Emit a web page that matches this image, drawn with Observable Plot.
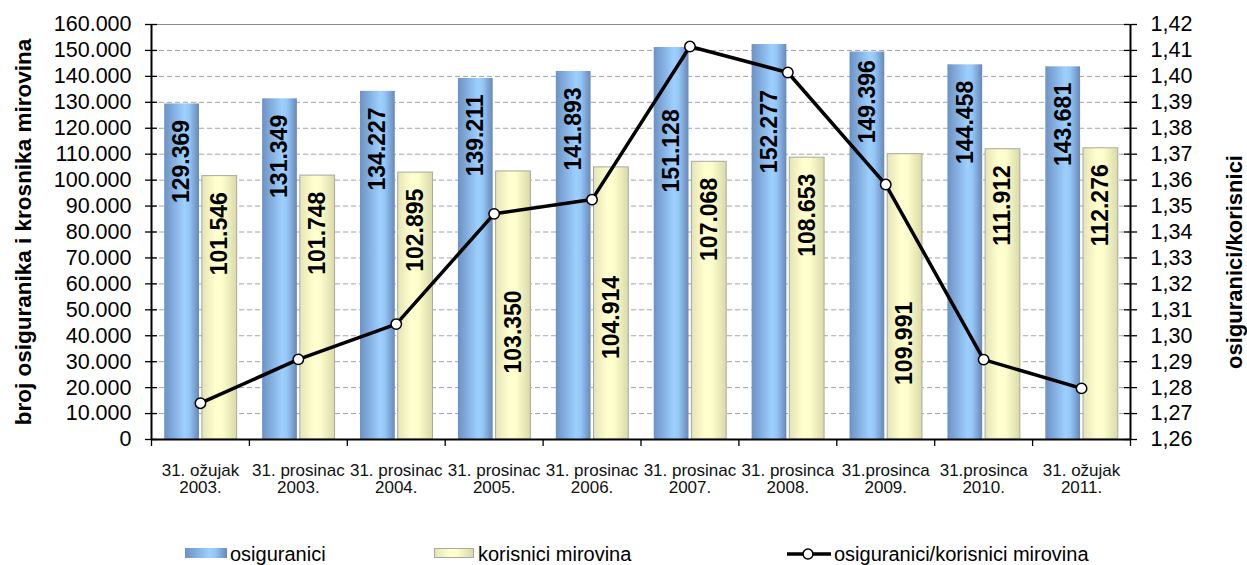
<!DOCTYPE html>
<html>
<head>
<meta charset="utf-8">
<script src="https://cdn.jsdelivr.net/npm/d3@7"></script>
<script src="https://cdn.jsdelivr.net/npm/@observablehq/plot@0.6"></script>
<style>
  html, body { margin: 0; padding: 0; background: #fff; }
  body { font-family: "Liberation Sans", Arial, sans-serif; }
  #wrap { position: relative; width: 1247px; height: 565px; overflow: hidden; }
  #chart svg { display: block; }
  .lg { position: absolute; font-size: 20px; line-height: 20px; color: #000; white-space: nowrap; }
  .sw { position: absolute; box-sizing: border-box; }
</style>
</head>
<body>
<div id="wrap">
  <div id="chart"></div>
  <div id="legend"></div>
</div>
<script>
// ---------------- data ----------------
const categories = [
  "31. ožujak\n2003.", "31. prosinac\n2003.", "31. prosinac\n2004.", "31. prosinac\n2005.",
  "31. prosinac\n2006.", "31. prosinac\n2007.", "31. prosinca\n2008.", "31.prosinca\n2009.",
  "31.prosinca\n2010.", "31. ožujak\n2011."
];
const osiguranici = [129369, 131349, 134227, 139211, 141893, 151128, 152277, 149396, 144458, 143681];
const korisnici   = [101546, 101748, 102895, 103350, 104914, 107068, 108653, 109991, 111912, 112276];
const omjer       = [1.274, 1.2909, 1.3045, 1.347, 1.3525, 1.4115, 1.4015, 1.3583, 1.2908, 1.2797];
const leftTicks   = [0, 10000, 20000, 30000, 40000, 50000, 60000, 70000, 80000, 90000, 100000,
                     110000, 120000, 130000, 140000, 150000, 160000];
const rightTicks  = [1.26, 1.27, 1.28, 1.29, 1.30, 1.31, 1.32, 1.33, 1.34, 1.35, 1.36,
                     1.37, 1.38, 1.39, 1.40, 1.41, 1.42];
const seriesNames = ["osiguranici", "korisnici mirovina", "osiguranici/korisnici mirovina"];
const leftTitle  = "broj osiguranika i krosnika mirovina";
const rightTitle = "osiguranici/korisnici";

// ---------------- helpers ----------------
const locale = d3.formatLocale({decimal: ",", thousands: ".", grouping: [3], currency: ["", ""]});
const fmtInt = locale.format(",d");
const fmt2 = locale.format(".2f");
const leftMax = leftTicks[leftTicks.length - 1];
const rMin = rightTicks[0], rMax = rightTicks[rightTicks.length - 1];
const ratioToLeft = r => (r - rMin) / (rMax - rMin) * leftMax;
const leftToRatio = v => rMin + v / leftMax * (rMax - rMin);

const W = 1247, H = 520;
const base = {
  width: W, height: H,
  marginLeft: 151, marginRight: 117, marginTop: 24, marginBottom: 81,
  x: {type: "linear", domain: [0, categories.length], axis: null},
  y: {type: "linear", domain: [0, leftMax], axis: null},
  style: {fontFamily: '"Liberation Sans", Arial, sans-serif', background: "#fff", overflow: "visible"}
};

const idx = categories.map((d, i) => i);
const series = [
  {values: osiguranici, x0: 0.135, x1: 0.49, fill: "url(#gBlue)", stroke: "none", below: "near"},
  {values: korisnici, x0: 0.52, x1: 0.875, fill: "url(#gYellow)", stroke: "#a8a8a0", below: "center"}
];

// probe plot to obtain Plot's own scales for label placement
const probe = Plot.plot({...base, marks: [
  Plot.rectY(idx, {x1: i => i, x2: i => i + 1, y1: 0, y2: i => osiguranici[i]})
]});
const xs = probe.scale("x"), ys = probe.scale("y");
const px = v => xs.apply(v), py = v => ys.apply(v);

const linePts = omjer.map((r, i) => [px(i + 0.5), py(ratioToLeft(r))]);
function lineAt(x) {
  for (let k = 0; k < linePts.length - 1; k++) {
    const [xa, ya] = linePts[k], [xb, yb] = linePts[k + 1];
    if (x >= xa && x <= xb) return ya + (yb - ya) * (x - xa) / (xb - xa);
  }
  return null;
}
function lineRange(x0, x1) {
  let lo = Infinity, hi = -Infinity;
  for (let x = x0; x <= x1; x += 0.5) {
    const y = lineAt(x);
    if (y != null) { lo = Math.min(lo, y); hi = Math.max(hi, y); }
  }
  return lo === Infinity ? null : [lo, hi];
}
const LABEL_FONT = 23;
const ctx = document.createElement("canvas").getContext("2d");
ctx.font = `bold ${LABEL_FONT}px "Liberation Sans", Arial, sans-serif`;
const measure = s => ctx.measureText(s).width;

const labels = [];
series.forEach(s => s.values.forEach((v, i) => {
  const cx = (px(i + s.x0) + px(i + s.x1)) / 2;
  const yTop = py(v), yBase = py(0);
  const txt = fmtInt(v);
  const len = measure(txt);
  let top = yTop + 16;
  const lr = lineRange(cx - 9, cx + 9);
  if (lr && lr[0] - 6 < top + len && lr[1] + 6 > top) {
    const aboveTop = lr[0] - 10 - len;
    if (aboveTop >= yTop + 5) top = aboveTop;
    else if (s.below === "near") top = lr[1] + 20;
    else top = (lr[1] + yBase) / 2 - len / 2 + 6;
  }
  labels.push({x: i + (s.x0 + s.x1) / 2, y: ys.invert(top), text: txt});
}));

const tickIn = xs.invert(px(0) + 6);                                  // 6px inward, data units
const tickInR = categories.length - xs.invert(px(categories.length) - 6);

// gradients
function defs() {
  const d = d3.create("svg:defs");
  const mk = (id, stops) => {
    const g = d.append("linearGradient").attr("id", id).attr("x1", 0).attr("x2", 1).attr("y1", 0).attr("y2", 0);
    stops.forEach(([o, c]) => g.append("stop").attr("offset", o).attr("stop-color", c));
  };
  mk("gBlue", [[0, "#6c92c4"], [0.25, "#82acdd"], [0.58, "#9dd0ff"], [0.72, "#94c6f6"], [1, "#6888b8"]]);
  mk("gYellow", [[0, "#e4e4b6"], [0.4, "#ffffd0"], [0.6, "#fdfdcc"], [1, "#dadaa8"]]);
  return d.node();
}

const chart = Plot.plot({
  ...base,
  marks: [
    defs,
    // gridlines
    Plot.ruleY(leftTicks.filter(t => t > 0 && t < leftMax), {stroke: "#a3a3a3", strokeWidth: 1, strokeDasharray: "5,3"}),
    Plot.ruleY([leftMax], {stroke: "#8c8c8c", strokeWidth: 1.2}),
    // bars
    ...series.map(s => Plot.rectY(idx, {
      x1: i => i + s.x0, x2: i => i + s.x1, y1: 0, y2: i => s.values[i],
      fill: s.fill, stroke: s.stroke, strokeWidth: 1
    })),
    // axis lines
    Plot.ruleX([0], {stroke: "#000", strokeWidth: 2}),
    Plot.ruleX([categories.length], {stroke: "#000", strokeWidth: 2}),
    Plot.ruleY([0], {stroke: "#000", strokeWidth: 2}),
    // inward tick halves
    Plot.ruleY(leftTicks, {x1: 0, x2: tickIn, stroke: "#000", strokeWidth: 1.3}),
    Plot.ruleY(leftTicks, {x1: categories.length - tickInR, x2: categories.length, stroke: "#000", strokeWidth: 1.3}),
    // axes
    Plot.axisY({anchor: "left", ticks: leftTicks, tickFormat: fmtInt, tickSize: 6, tickPadding: 14,
      fontSize: 21.5, fill: "#000", stroke: "#000", strokeWidth: 1.3, label: null}),
    Plot.axisY({anchor: "right", ticks: rightTicks.map(ratioToLeft), tickFormat: v => fmt2(leftToRatio(v)),
      tickSize: 6, tickPadding: 14, fontSize: 21.5, fill: "#000", stroke: "#000", strokeWidth: 1.3, label: null}),
    Plot.axisX({ticks: d3.range(0, categories.length + 1), tickFormat: () => "", tickSize: 7,
      stroke: "#000", strokeWidth: 1.3, label: null}),
    // category labels
    Plot.text(categories, {x: (d, i) => i + 0.5, y: 0, text: d => d, dy: 24, lineAnchor: "top",
      fontSize: 17, lineHeight: 1.0, fill: "#111"}),
    // ratio line
    Plot.line(omjer, {x: (d, i) => i + 0.5, y: d => ratioToLeft(d), stroke: "#000", strokeWidth: 3.5,
      strokeLinejoin: "round"}),
    Plot.dot(omjer, {x: (d, i) => i + 0.5, y: d => ratioToLeft(d), r: 5.2, fill: "#fff", stroke: "#000", strokeWidth: 1.5}),
    // value labels
    Plot.text(labels, {x: "x", y: "y", text: "text", rotate: -90, textAnchor: "end",
      fontSize: LABEL_FONT, fontWeight: "bold", fill: "#000"}),
    // axis titles
    Plot.text([leftTitle], {text: d => d, frameAnchor: "left", textAnchor: "middle", dx: -128, rotate: -90,
      fontSize: 22.5, fontWeight: "bold", fill: "#000"}),
    Plot.text([rightTitle], {text: d => d, frameAnchor: "right", textAnchor: "middle", dx: 104, dy: 30, rotate: -90,
      fontSize: 22, fontWeight: "bold", fill: "#000"})
  ]
});
document.getElementById("chart").appendChild(chart);

// ---------------- legend (below the svg) ----------------
const legend = document.getElementById("legend");
legend.innerHTML = `
  <div class="sw" style="left:185px;top:548px;width:42px;height:10px;background:linear-gradient(to right,#6c92c4,#82acdd 25%,#9dd0ff 58%,#94c6f6 72%,#6888b8);"></div>
  <div class="lg" style="left:230px;top:544px;">${seriesNames[0]}</div>
  <div class="sw" style="left:434px;top:548px;width:40px;height:10px;border:1px solid #a8a8a0;background:linear-gradient(to right,#e4e4b6,#ffffd0 40%,#fdfdcc 60%,#dadaa8);"></div>
  <div class="lg" style="left:478px;top:544px;">${seriesNames[1]}</div>
  <svg style="position:absolute;left:785px;top:544px;" width="48" height="20">
    <line x1="2" x2="46" y1="10" y2="10" stroke="#000" stroke-width="3.5"/>
    <circle cx="23" cy="10" r="5" fill="#fff" stroke="#000" stroke-width="1.5"/>
  </svg>
  <div class="lg" style="left:834px;top:544px;">${seriesNames[2]}</div>
`;
</script>
</body>
</html>
